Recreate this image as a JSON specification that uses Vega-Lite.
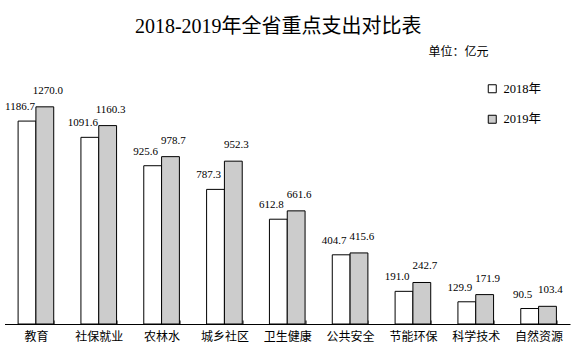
{
  "$schema": "https://vega.github.io/schema/vega-lite/v6.json",
  "autosize": {"type": "none"},
  "width": 565.5,
  "height": 270,
  "padding": {"left": 4.5, "top": 54, "right": 6, "bottom": 29},
  "background": "white",
  "title": {
    "text": "2018-2019年全省重点支出对比表",
    "font": "Liberation Serif, Noto Sans CJK SC",
    "fontSize": 20,
    "fontWeight": "normal",
    "color": "black",
    "anchor": "middle",
    "baseline": "alphabetic",
    "dx": -9,
    "dy": 30,
    "offset": 22
  },
  "data": {
    "values": [
      {"cat": "教育", "year": "2018年", "value": 1186.7},
      {"cat": "教育", "year": "2019年", "value": 1270.0},
      {"cat": "社保就业", "year": "2018年", "value": 1091.6},
      {"cat": "社保就业", "year": "2019年", "value": 1160.3},
      {"cat": "农林水", "year": "2018年", "value": 925.6},
      {"cat": "农林水", "year": "2019年", "value": 978.7},
      {"cat": "城乡社区", "year": "2018年", "value": 787.3},
      {"cat": "城乡社区", "year": "2019年", "value": 952.3},
      {"cat": "卫生健康", "year": "2018年", "value": 612.8},
      {"cat": "卫生健康", "year": "2019年", "value": 661.6},
      {"cat": "公共安全", "year": "2018年", "value": 404.7},
      {"cat": "公共安全", "year": "2019年", "value": 415.6},
      {"cat": "节能环保", "year": "2018年", "value": 191.0},
      {"cat": "节能环保", "year": "2019年", "value": 242.7},
      {"cat": "科学技术", "year": "2018年", "value": 129.9},
      {"cat": "科学技术", "year": "2019年", "value": 171.9},
      {"cat": "自然资源", "year": "2018年", "value": 90.5},
      {"cat": "自然资源", "year": "2019年", "value": 103.4}
    ]
  },
  "encoding": {
    "x": {
      "field": "cat",
      "type": "nominal",
      "sort": null,
      "scale": {"paddingInner": 0.433, "paddingOuter": 0.2165},
      "axis": {
        "title": null,
        "labelAngle": 0,
        "domainColor": "black",
        "domainWidth": 1,
        "tickColor": "black",
        "tickWidth": 1,
        "tickBand": "extent",
        "tickSize": -4,
        "labelFont": "Noto Sans CJK SC",
        "labelFontSize": 12,
        "labelColor": "black",
        "labelBaseline": "top",
        "labelPadding": 11
      }
    },
    "xOffset": {
      "field": "year",
      "type": "nominal",
      "scale": {"paddingInner": 0, "paddingOuter": 0}
    },
    "y": {
      "field": "value",
      "type": "quantitative",
      "scale": {"domain": [0, 1579], "nice": false},
      "axis": {
        "orient": "left",
        "domain": false,
        "ticks": false,
        "labels": false,
        "grid": false,
        "title": "单位：亿元",
        "titleAngle": 0,
        "titleX": 423.5,
        "titleY": 4,
        "titleAlign": "left",
        "titleBaseline": "bottom",
        "titleFont": "Noto Sans CJK SC",
        "titleFontSize": 12,
        "titleFontWeight": "normal",
        "titleColor": "black"
      }
    }
  },
  "layer": [
    {
      "mark": {"type": "bar", "stroke": "black", "strokeWidth": 1},
      "encoding": {
        "fill": {
          "field": "year",
          "type": "nominal",
          "scale": {"domain": ["2018年", "2019年"], "range": ["white", "#cccccc"]},
          "legend": {
            "title": null,
            "orient": "none",
            "legendX": 481.5,
            "legendY": 28.5,
            "symbolType": "square",
            "symbolSize": 64,
            "symbolStrokeColor": "black",
            "symbolStrokeWidth": 1,
            "labelFont": "Liberation Serif, Noto Sans CJK SC",
            "labelFontSize": 12.5,
            "labelColor": "black",
            "rowPadding": 17.5,
            "labelOffset": 5,
            "padding": 0,
            "symbolOffset": 0
          }
        }
      }
    },
    {
      "transform": [{"filter": "datum.year === '2018年'"}],
      "mark": {"type": "text", "font": "Liberation Serif", "fontSize": 11, "dx": -7, "dy": -11, "baseline": "alphabetic", "color": "black"},
      "encoding": {
        "text": {"field": "value", "type": "quantitative", "format": ".1f"}
      }
    },
    {
      "transform": [{"filter": "datum.year === '2019年'"}],
      "mark": {"type": "text", "font": "Liberation Serif", "fontSize": 11, "dx": 3, "dy": -13, "baseline": "alphabetic", "color": "black"},
      "encoding": {
        "text": {"field": "value", "type": "quantitative", "format": ".1f"}
      }
    }
  ],
  "config": {"view": {"stroke": null}}
}
